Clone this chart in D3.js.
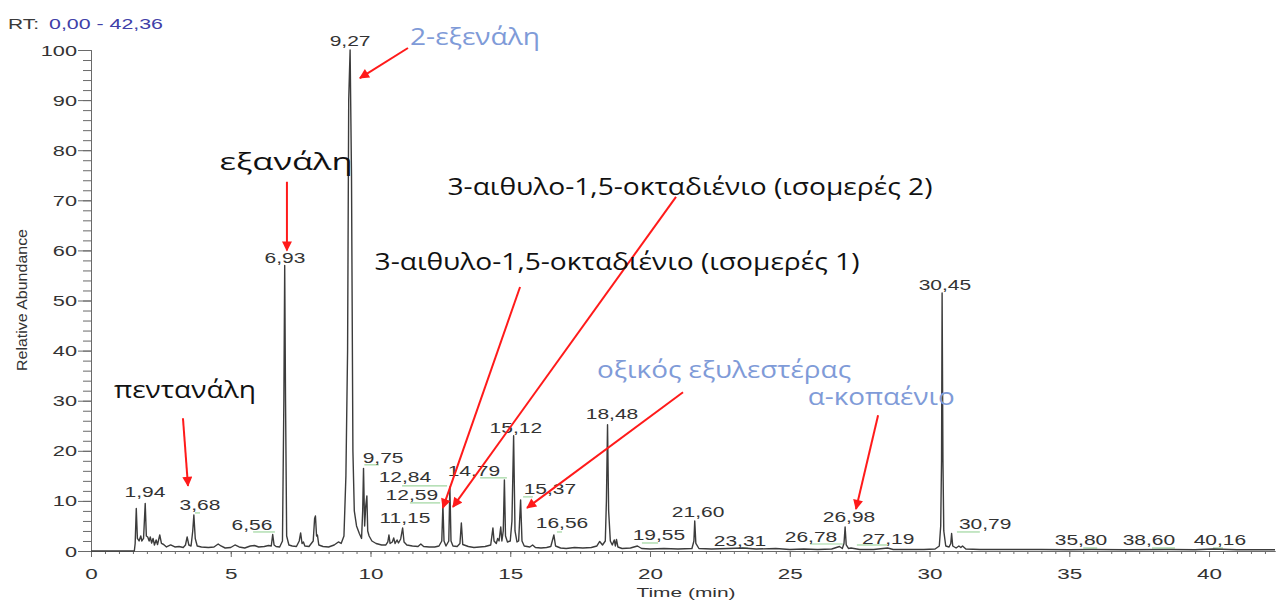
<!DOCTYPE html>
<html><head><meta charset="utf-8">
<script src="https://cdn.jsdelivr.net/npm/d3@7"></script>
<style>
html,body{margin:0;padding:0;background:#fff;}
svg{display:block;}
</style></head>
<body>
<svg id="chart" width="1276" height="601"></svg>
<script>
// ---------------- DATA ----------------
const rtRange = [0, 42.36];
const yTicks = [0,10,20,30,40,50,60,70,80,90,100];
const xTicks = [0,5,10,15,20,25,30,35,40];

// chromatogram trace: [time (min), relative abundance]
const trace = [
[0,0],[1.55,0],[1.58,1.5],[1.62,8.5],[1.66,2.5],[1.72,2],[1.78,3],[1.82,2],[1.88,2.5],[1.94,9.5],[1.98,3],
[2.03,2.8],[2.08,2],[2.12,2.8],[2.17,1.6],[2.22,2.5],[2.27,1.2],[2.33,2.2],[2.38,1.3],[2.46,3.2],[2.52,1.5],
[2.6,1.3],[2.7,0.8],[2.85,1.2],[3.0,0.8],[3.15,0.9],[3.3,0.7],[3.38,1.2],[3.44,2.8],[3.5,1.2],[3.58,1.0],
[3.64,4],[3.68,7.2],[3.73,2.5],[3.8,1],[3.95,0.8],[4.2,0.7],[4.4,0.8],[4.55,1.4],[4.65,1.0],[4.8,0.6],
[5.0,0.7],[5.15,1.2],[5.3,0.8],[5.5,0.6],[5.7,1.0],[5.85,1.1],[6.0,0.8],[6.2,0.9],[6.35,1.1],[6.45,1.0],
[6.5,3.3],[6.55,1.2],[6.62,0.9],[6.75,0.8],[6.85,2],[6.9,30],[6.93,57],[6.96,30],[7.0,3],[7.08,1.2],
[7.2,1],[7.35,0.9],[7.45,2],[7.5,3.6],[7.55,1.5],[7.6,1.8],[7.65,1],[7.8,0.9],[7.95,2],[8.0,6.5],
[8.03,7],[8.07,3],[8.1,3.2],[8.15,1.2],[8.3,0.9],[8.5,0.8],[8.7,1.2],[8.85,1.8],[8.95,1.5],[9.05,3],
[9.12,15],[9.18,40],[9.22,90],[9.27,100],[9.32,75],[9.37,20],[9.42,8],[9.5,5],[9.6,3.5],[9.68,2.5],
[9.72,8],[9.75,16.5],[9.79,5],[9.83,9],[9.87,11],[9.9,4],[9.95,3],[10.05,2],[10.2,1.5],[10.4,1.2],
[10.55,1.2],[10.62,1.8],[10.66,3.2],[10.7,1.5],[10.78,1.8],[10.83,2.6],[10.88,1.5],[10.95,2.2],[11.0,1.6],
[11.08,2.4],[11.15,4.6],[11.2,1.8],[11.3,1.2],[11.5,1],[11.7,0.9],[11.8,1.4],[11.9,0.9],[12.1,0.8],
[12.3,0.8],[12.45,1],[12.55,2],[12.59,9.2],[12.63,2],[12.7,1],[12.8,2],[12.84,12.8],[12.88,2],[12.95,1],
[13.1,0.9],[13.2,1.5],[13.25,5.6],[13.3,1.3],[13.5,0.9],[13.7,0.7],[13.9,0.8],[14.1,0.9],[14.3,1.2],
[14.38,4.6],[14.42,2],[14.5,1.5],[14.55,2.5],[14.6,2],[14.66,4.8],[14.7,2],[14.75,4],[14.79,14.2],
[14.83,3],[14.9,1.8],[15.0,2],[15.06,6],[15.12,23],[15.17,4],[15.24,1.8],[15.3,2],[15.37,10.2],[15.42,2],
[15.5,1],[15.7,0.8],[15.8,1.2],[15.9,0.7],[16.1,0.6],[16.3,0.7],[16.45,0.9],[16.56,3.2],[16.62,1],
[16.8,0.6],[17.0,0.5],[17.3,0.7],[17.6,0.6],[17.9,0.7],[18.1,1],[18.2,1.9],[18.3,1.2],[18.4,2],[18.44,10],
[18.48,25.2],[18.52,8],[18.58,2],[18.65,1.2],[18.72,2.2],[18.76,1],[18.8,2.3],[18.85,0.8],[19.0,0.5],
[19.3,0.6],[19.55,1.0],[19.7,0.5],[20.0,0.4],[20.5,0.5],[21.0,0.4],[21.5,0.5],[21.57,2],[21.6,6],
[21.64,1.5],[21.75,0.5],[22.2,0.4],[22.8,0.5],[23.31,0.6],[23.8,0.4],[24.5,0.5],[25.0,0.3],[25.5,0.4],
[26.0,0.3],[26.5,0.4],[26.78,0.9],[26.88,0.5],[26.94,1.5],[26.98,4.8],[27.02,1.2],[27.1,0.5],[27.19,0.6],
[27.5,0.3],[28.0,0.3],[28.5,0.6],[28.7,0.3],[29.2,0.3],[29.8,0.3],[30.2,0.4],[30.35,1],[30.4,5],
[30.43,18],[30.45,51.5],[30.48,18],[30.51,4],[30.58,1],[30.7,0.8],[30.76,1.5],[30.79,3.5],[30.83,1],
[30.95,0.6],[31.05,1],[31.12,0.7],[31.18,1],[31.3,0.4],[31.8,0.3],[33,0.3],[34,0.3],[35,0.25],[35.8,0.3],
[37,0.25],[38.6,0.3],[39.5,0.25],[40.16,0.4],[41,0.25],[42.36,0.25]
];

// peak labels (retention time text) and where they sit, in data units
const peakText = ["9,27","6,93","1,94","3,68","6,56","9,75","12,84","12,59","11,15","14,79","15,12","15,37","16,56","18,48","19,55","21,60","23,31","26,78","26,98","27,19","30,45","30,79","35,80","38,60","40,16"];
const peakLabelT = [9.27,6.94,1.93,3.9,5.76,10.45,11.23,11.48,11.23,13.7,15.2,16.42,16.85,18.64,20.32,21.72,23.22,25.76,27.12,28.52,30.55,31.99,35.42,37.85,40.39];
const peakLabelY = [100.8,57.5,10.8,8.2,4.2,17.6,13.8,10.2,5.6,15.0,23.6,11.4,4.6,26.3,2.2,6.8,1.0,1.8,5.8,1.4,52.1,4.4,1.2,1.2,1.2];

// green leader lines: [t start, t end, abundance]
const leaders = [[3.72,3.9,7.6],[5.8,6.58,3.8],[9.78,10.3,17.2],[11.13,12.74,13],[11.41,12.49,9.6],[13.92,14.88,14.6],
[15.46,15.81,10.8],[16.67,16.85,3.8],[19.71,20.29,1.6],[23.3,23.5,0.6],[25.72,26.9,1.4],[27.4,28.5,1.2],
[30.98,31.8,3.8],[35.5,36.0,0.6],[37.96,38.78,0.6],[40.14,40.5,0.6]];

// compound annotations
const compNames = ["πεντανάλη","εξανάλη","2-εξενάλη","3-αιθυλο-1,5-οκταδιένιο (ισομερές 2)","3-αιθυλο-1,5-οκταδιένιο (ισομερές 1)","οξικός εξυλεστέρας","α-κοπαένιο"];
const compGroup = ["black","black","blue","black","black","blue","blue"];
// text centre [t, abundance] and arrow [t0,y0,t1,y1] in data units
const compTextAt = [[3.36,30.5],[6.98,76],[13.74,101],[21.43,71],[18.82,56],[22.65,34.5],[28.27,29.1]];
const compArrow = [[3.29,26.5,3.47,13],[7.01,73.7,7.01,60],[11.34,100.4,9.62,94.4],[20.93,70.7,12.95,8.8],[15.35,52.7,12.59,8.6],[21.18,31.7,15.6,8.6],[28.16,27.1,27.37,8.4]];
const compWidthPx = [142,133,130,485,485,254,147];

// ---------------- DRAW ----------------
const svg = d3.select("#chart");
const x = d3.scaleLinear().domain(rtRange).range([91, 1275]);
const y = d3.scaleLinear().domain([0,100]).range([551, 50]);

const XFONT = "'Liberation Sans', Arial, sans-serif";
const textCol = "#333333";
const axisCol = "#6a6a6a";

function sText(g, px, py, str, size, sx, anchor, fill){
  return g.append("text")
    .attr("transform", `translate(${px},${py}) scale(${sx},1)`)
    .attr("text-anchor", anchor)
    .attr("font-family", XFONT)
    .attr("font-size", size)
    .attr("fill", fill)
    .text(str);
}

// header
const hdr = svg.append("text").attr("x", 8).attr("y", 29).attr("font-family", XFONT).attr("font-size", 15);
hdr.append("tspan").attr("fill", "#3a3a3a").attr("textLength", 31).attr("lengthAdjust","spacingAndGlyphs").text("RT:");
hdr.append("tspan").attr("x", 49).attr("fill", "#4040a8").attr("textLength", 114).attr("lengthAdjust","spacingAndGlyphs").text("0,00 - 42,36");

// y axis
const yMinor = svg.append("g").attr("transform","translate(91,0)")
  .call(d3.axisLeft(y).tickValues(d3.range(0,101,2)).tickSize(8).tickFormat(""));
const yMajor = svg.append("g").attr("transform","translate(91,0)")
  .call(d3.axisLeft(y).tickValues(yTicks).tickSize(13).tickFormat(d=>d));
[yMinor,yMajor].forEach(g=>{ g.select(".domain").attr("stroke", axisCol); g.selectAll(".tick line").attr("stroke", axisCol); });
yMajor.selectAll(".tick text")
  .attr("x", null).attr("dy", null)
  .attr("transform","translate(-14,5) scale(1.5,1)")
  .attr("font-family", XFONT).attr("font-size", 14.5).attr("fill", textCol);

// x axis
const xMinor = svg.append("g").attr("transform","translate(0,551)")
  .call(d3.axisBottom(x).tickValues(d3.range(0,42.36,0.5)).tickSize(3).tickFormat("").tickSizeOuter(0));
const xMajor = svg.append("g").attr("transform","translate(0,551)")
  .call(d3.axisBottom(x).tickValues(xTicks).tickSize(6).tickFormat(d=>d).tickSizeOuter(0));
[xMinor,xMajor].forEach(g=>{ g.select(".domain").attr("stroke", axisCol); g.selectAll(".tick line").attr("stroke", axisCol); });
xMajor.selectAll(".tick text")
  .attr("y", null).attr("dy", null)
  .attr("transform","translate(0,28) scale(1.45,1)")
  .attr("font-family", XFONT).attr("font-size", 15.5).attr("fill", textCol);

// axis titles
sText(svg, 686, 597, "Time (min)", 13.5, 1.55, "middle", textCol);
svg.append("text")
  .attr("transform","translate(27,300) rotate(-90)")
  .attr("text-anchor","middle")
  .attr("font-family", XFONT).attr("font-size", 14).attr("fill", textCol)
  .attr("textLength", 142).attr("lengthAdjust","spacingAndGlyphs")
  .text("Relative Abundance");

// green leaders
svg.append("g").selectAll("line").data(leaders).join("line")
  .attr("x1", d=>x(d[0])).attr("x2", d=>x(d[1]))
  .attr("y1", d=>y(d[2])).attr("y2", d=>y(d[2]))
  .attr("stroke", "#9fd69f").attr("stroke-width", 1.2);

// trace
svg.append("path")
  .datum(trace)
  .attr("d", d3.line().x(d=>x(d[0])).y(d=>y(d[1])))
  .attr("fill","none").attr("stroke","#3c3c3c").attr("stroke-width",1.4).attr("stroke-linejoin","round");

// peak labels
const pl = svg.append("g");
peakText.forEach((s,i)=>{
  sText(pl, x(peakLabelT[i]), y(peakLabelY[i]), s, 14, 1.5, "middle", textCol);
});

// arrows
const defs = svg.append("defs");
defs.append("marker").attr("id","ah").attr("viewBox","0 0 10 10").attr("refX",9).attr("refY",5)
  .attr("markerWidth",5.5).attr("markerHeight",5).attr("orient","auto").attr("markerUnits","strokeWidth")
  .append("path").attr("d","M0,0 L10,5 L0,10 z").attr("fill","#ff1a1a");

svg.append("g").selectAll("line").data(compArrow).join("line")
  .attr("x1", d=>x(d[0])).attr("y1", d=>y(d[1]))
  .attr("x2", d=>x(d[2])).attr("y2", d=>y(d[3]))
  .attr("stroke","#ff1a1a").attr("stroke-width",2).attr("marker-end","url(#ah)");

// compound names
const colMap = {black:"#111111", blue:"#7f9bd8"};
svg.append("g").selectAll("text").data(compNames).join("text")
  .attr("x", (d,i)=>x(compTextAt[i][0]))
  .attr("y", (d,i)=>y(compTextAt[i][1]))
  .attr("text-anchor","middle")
  .attr("font-family","'Open Sans', 'Noto Sans', sans-serif")
  .attr("font-size", 24)
  .attr("fill", (d,i)=>colMap[compGroup[i]])
  .attr("textLength", (d,i)=>compWidthPx[i])
  .attr("lengthAdjust","spacingAndGlyphs")
  .text(d=>d);
</script>
</body></html>
